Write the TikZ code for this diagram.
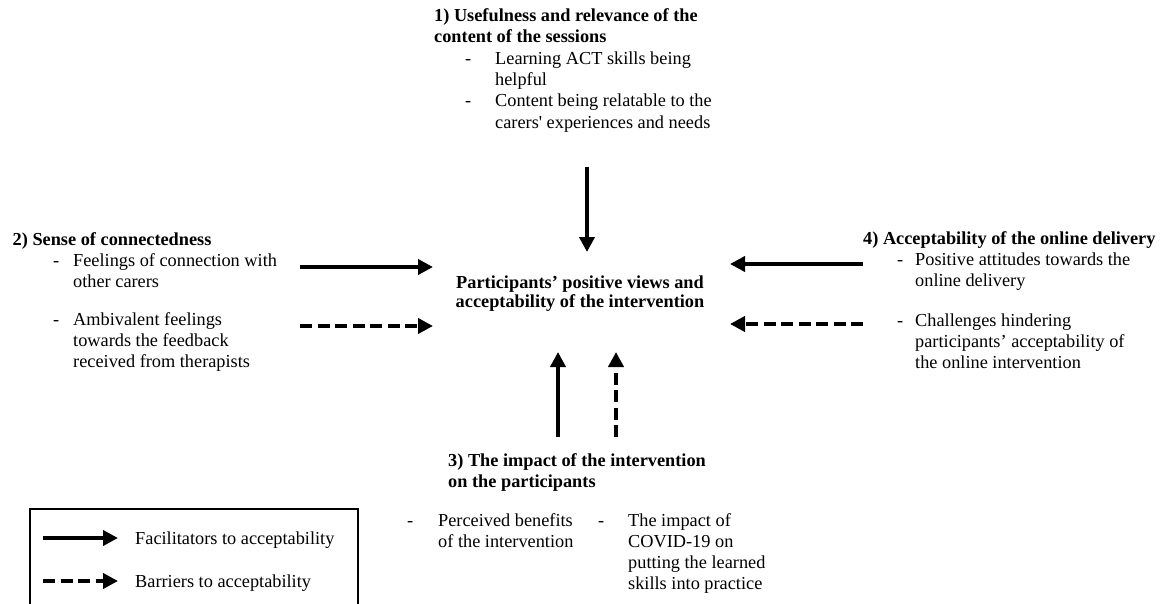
\documentclass[tikz,border=0pt]{standalone}
\usepackage{fontspec}
\setmainfont{Liberation Serif}
\usetikzlibrary{arrows.meta}
\newcommand\bulletblock[2]{\begin{tabular}[t]{@{}p{#1}@{}l@{}}-&#2\end{tabular}}
\newcommand\lineblock[1]{\begin{tabular}[t]{@{}l@{}}#1\end{tabular}}
\begin{document}
\begin{tikzpicture}[x=1pt,y=-1pt,
  txt/.style={inner sep=0pt, anchor=base west, font=\fontsize{18.3}{21.3}\selectfont},
  head/.style={txt, font=\fontsize{18.3}{21.3}\selectfont\bfseries},
  fac/.style={line width=4pt, -{Triangle[length=15pt,width=15pt]}},
  bar/.style={fac, dash pattern=on 12pt off 5.5pt},
  legendbox/.style={line width=1.2pt}]
\useasboundingbox (0,0) rectangle (1166,604);

% centre
\node[txt, anchor=base, font=\fontsize{18.3}{21.3}\selectfont\bfseries] (centre) at (580,288)
  {\begin{tabular}[t]{@{}c@{}}Participants’ positive views and\\[-2.3pt]acceptability of the intervention\end{tabular}};

% 1) top
\node[head] (h1) at (434,21.5) {\lineblock{1) Usefulness and relevance of the\\content of the sessions}};
\node[txt] (b11) at (465,64.5) {\bulletblock{30pt}{Learning ACT skills being\\&helpful}};
\node[txt] (b12) at (465,107) {\bulletblock{30pt}{Content being relatable to the\\&carers\textquotesingle{} experiences and needs}};

% 2) left
\node[head] (h2) at (12.5,245) {2) Sense of connectedness};
\node[txt] (b21) at (53,266) {\bulletblock{20pt}{Feelings of connection with\\&other carers}};
\node[txt] (b22) at (53,325) {\bulletblock{20pt}{Ambivalent feelings\\&towards the feedback\\&received from therapists}};

% 4) right
\node[head] (h4) at (863,244) {4) Acceptability of the online delivery};
\node[txt] (b41) at (897,265) {\bulletblock{18pt}{Positive attitudes towards the\\&online delivery}};
\node[txt] (b42) at (897,326) {\bulletblock{18pt}{Challenges hindering\\&participants’ acceptability of\\&the online intervention}};

% 3) bottom
\node[head] (h3) at (448,466) {\lineblock{3) The impact of the intervention\\on the participants}};
\node[txt] (b31) at (407,526) {\bulletblock{31pt}{Perceived benefits\\&of the intervention}};
\node[txt] (b32) at (598,526) {\bulletblock{30pt}{The impact of\\&COVID-19 on\\&putting the learned\\&skills into practice}};

% arrow end points
\coordinate (t1) at (587,167);   \coordinate (t2) at (587,252);
\coordinate (l1) at (300,267);   \coordinate (l2) at (433,267);
\coordinate (l3) at (300,326);   \coordinate (l4) at (433,326);
\coordinate (r1) at (863,264);   \coordinate (r2) at (730,264);
\coordinate (r3) at (863,324);   \coordinate (r4) at (730,324);
\coordinate (u1) at (558,437);   \coordinate (u2) at (558,352);
\coordinate (v1) at (616,437);   \coordinate (v2) at (616,352);

\draw[fac] (t1) -- (t2);
\draw[fac] (l1) -- (l2);
\draw[bar] (l3) -- (l4);
\draw[fac] (r1) -- (r2);
\draw[bar] (r3) -- (r4);
\draw[fac] (u1) -- (u2);
\draw[bar] (v1) -- (v2);

% legend
\draw[legendbox] (30,605) -- (30,509) -- (358,509) -- (358,605);
\coordinate (g1) at (43,538);  \coordinate (g2) at (118,538);
\coordinate (g3) at (43,581);  \coordinate (g4) at (118,581);
\draw[fac] (g1) -- (g2);
\draw[bar] (g3) -- (g4);
\node[txt] (lf) at (135,544) {Facilitators to acceptability};
\node[txt] (lb) at (135,587) {Barriers to acceptability};
\end{tikzpicture}
\end{document}
